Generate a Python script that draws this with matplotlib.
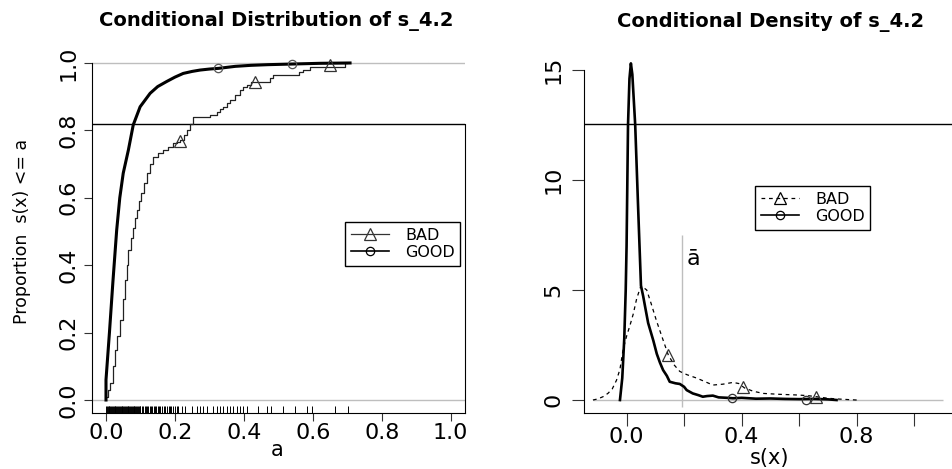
import matplotlib
matplotlib.use("Agg")
import matplotlib.pyplot as plt
from matplotlib.lines import Line2D

# ---------------- data ----------------
# Left panel: empirical CDFs
good_cdf_x = [0.0, 0.0, 0.01, 0.02, 0.031, 0.04, 0.05, 0.065, 0.079, 0.099, 0.128, 0.15,
              0.176, 0.2, 0.224, 0.25, 0.273, 0.3, 0.326, 0.375, 0.42, 0.47, 0.545, 0.62, 0.708]
good_cdf_y = [0.0, 0.06, 0.2, 0.35, 0.504, 0.6, 0.673, 0.742, 0.816, 0.87, 0.91, 0.93,
              0.945, 0.958, 0.969, 0.975, 0.979, 0.982, 0.984, 0.99, 0.993, 0.995, 0.997, 0.999, 1.0]

bad_cdf_x = [0.0, 0.005, 0.012, 0.02, 0.026, 0.033, 0.041, 0.048, 0.055, 0.06, 0.065, 0.072,
             0.078, 0.084, 0.089, 0.096, 0.103, 0.11, 0.118, 0.127, 0.137, 0.15, 0.166, 0.18,
             0.195, 0.205, 0.216, 0.225, 0.234, 0.243, 0.253, 0.302, 0.321, 0.33, 0.34, 0.35,
             0.36, 0.375, 0.389, 0.398, 0.408, 0.42, 0.475, 0.485, 0.56, 0.572, 0.592, 0.693, 0.70]
bad_cdf_y = [0.01, 0.03, 0.05, 0.1, 0.148, 0.19, 0.237, 0.3, 0.356, 0.4, 0.445, 0.48,
             0.51, 0.54, 0.564, 0.59, 0.613, 0.645, 0.673, 0.7, 0.722, 0.732, 0.742, 0.752,
             0.762, 0.767, 0.772, 0.787, 0.801, 0.82, 0.841, 0.846, 0.855, 0.862, 0.87, 0.88,
             0.89, 0.905, 0.92, 0.928, 0.935, 0.945, 0.955, 0.964, 0.972, 0.979, 0.989, 1.0, 1.0]

bad_cdf_mark_x = [0.216, 0.432, 0.65]
bad_cdf_mark_y = [0.769, 0.945, 0.994]
good_cdf_mark_x = [0.326, 0.541]
good_cdf_mark_y = [0.984, 0.997]

rug_values = [0.0, 0.0025, 0.005, 0.0075, 0.01, 0.0125, 0.015, 0.0175, 0.02, 0.0225,
              0.025, 0.0275, 0.03, 0.0325, 0.035, 0.0375, 0.04, 0.0425, 0.045, 0.0475,
              0.05, 0.0525, 0.055, 0.0575, 0.06, 0.0625, 0.065, 0.0675, 0.07, 0.0725,
              0.075, 0.0775, 0.08, 0.0825, 0.085, 0.0875, 0.09, 0.0925, 0.095, 0.0975,
              0.1, 0.104, 0.108, 0.112, 0.115, 0.119, 0.123, 0.127, 0.13, 0.134, 0.138,
              0.142, 0.146, 0.15, 0.154, 0.158, 0.163, 0.168, 0.172, 0.177, 0.182, 0.186,
              0.19, 0.195, 0.2, 0.205, 0.21, 0.2196, 0.229, 0.249, 0.263, 0.273, 0.282,
              0.292, 0.311, 0.321, 0.331, 0.34, 0.35, 0.36, 0.369, 0.379, 0.389, 0.398,
              0.408, 0.442, 0.466, 0.478, 0.514, 0.548, 0.582, 0.597, 0.664, 0.703]

# Right panel: densities
good_den_x = [-0.023, -0.015, -0.008, -0.003, 0.0, 0.005, 0.01, 0.015, 0.02, 0.03, 0.04,
              0.05, 0.058, 0.065, 0.075, 0.093, 0.105, 0.116, 0.127, 0.14, 0.15, 0.17,
              0.185, 0.2, 0.209, 0.23, 0.25, 0.265, 0.28, 0.3, 0.32, 0.35, 0.37, 0.4,
              0.45, 0.5, 0.55, 0.6, 0.65, 0.7, 0.73]
good_den_y = [0.0, 1.0, 2.8, 5.0, 7.0, 12.5, 14.6, 15.3, 14.8, 12.5, 8.8,
              5.2, 4.7, 4.2, 3.5, 2.7, 2.1, 1.7, 1.36, 1.1, 0.83, 0.76,
              0.73, 0.6, 0.45, 0.3, 0.22, 0.15, 0.18, 0.2, 0.12, 0.1, 0.08, 0.1,
              0.06, 0.07, 0.05, 0.04, 0.05, 0.03, 0.0]

bad_den_x = [-0.117, -0.1, -0.082, -0.065, -0.05, -0.035, -0.023, -0.012, 0.0, 0.012,
             0.023, 0.035, 0.05, 0.06, 0.07, 0.085, 0.104, 0.125, 0.145, 0.165, 0.185,
             0.21, 0.243, 0.27, 0.3, 0.335, 0.37, 0.39, 0.41, 0.44, 0.475, 0.53, 0.59,
             0.63, 0.66, 0.7, 0.73, 0.77, 0.8]
bad_den_y = [0.0, 0.05, 0.15, 0.3, 0.5, 0.9, 1.4, 2.3, 2.9, 3.4,
             3.9, 4.6, 5.2, 5.1, 5.0, 4.4, 3.6, 2.8, 2.05, 1.6, 1.3,
             1.15, 1.0, 0.85, 0.68, 0.72, 0.8, 0.75, 0.55, 0.4, 0.3, 0.26, 0.23,
             0.2, 0.15, 0.08, 0.05, 0.02, 0.0]

bad_den_mark_x = [0.145, 0.405, 0.66]
bad_den_mark_y = [2.05, 0.6, 0.15]
good_den_mark_x = [0.365, 0.624]
good_den_mark_y = [0.08, 0.0]

a_bar = 0.193
ref_cdf_level = 0.819
ref_den_level = 12.55

left_xticks = [0.0, 0.2, 0.4, 0.6, 0.8, 1.0]
left_yticks = [0.0, 0.2, 0.4, 0.6, 0.8, 1.0]
right_xticks = [0.0, 0.2, 0.4, 0.6, 0.8, 1.0]
right_xticklabels = ["0.0", "", "0.4", "", "0.8", ""]
right_yticks = [0, 5, 10, 15]

# ---------------- figure ----------------
W, H = 953, 469
fig = plt.figure(figsize=(W / 100, H / 100), dpi=100)
GRAY = "#bebebe"

def fx(px):
    return px / W

def fy(py):
    return 1 - py / H

# ---- left panel ----
axL = fig.add_axes([fx(92), fy(413), (465 - 92) / W, (413 - 49.5) / H])
axL.set_xlim(-0.0406, 1.0415)
axL.set_ylim(-0.0386, 1.04)
axL.axhline(1.0, color=GRAY, lw=1.0)
axL.axhline(0.0, color=GRAY, lw=1.0)
axL.axhline(ref_cdf_level, color="black", lw=1.0)
axL.plot(bad_cdf_x, bad_cdf_y, drawstyle="steps-post", color="#222222", lw=0.9)
axL.plot(good_cdf_x, good_cdf_y, color="black", lw=2.2)
axL.plot(bad_cdf_mark_x, bad_cdf_mark_y, ls="none", marker="^", ms=8,
         mfc="none", mec="#333333", mew=0.9)
axL.plot(good_cdf_mark_x, good_cdf_mark_y, ls="none", marker="o", ms=6,
         mfc="none", mec="#555555", mew=0.9)
axL.vlines(rug_values, -0.0386, -0.019, color="black", lw=0.7)

axL.spines["top"].set_visible(False)
axL.spines["left"].set_bounds(-0.0386, 1.0)
axL.spines["right"].set_bounds(-0.0386, ref_cdf_level)
axL.set_xticks(left_xticks)
axL.set_xticklabels([f"{v:.1f}" for v in left_xticks])
axL.set_yticks(left_yticks)
axL.set_yticklabels([f"{v:.1f}" for v in left_yticks], rotation=90, va="center")
axL.tick_params(axis="both", labelsize=16, length=6, width=0.8, color="#333333")
axL.tick_params(axis="y", pad=4)
axL.tick_params(axis="x", pad=1.5)
axL.tick_params(axis="y", right=False)

fig.text(fx(276), fy(21), "Conditional Distribution of s_4.2", ha="center",
         va="center", fontsize=14, fontweight="bold")
fig.text(fx(277), fy(450), "a", ha="center", va="center", fontsize=15)
fig.text(fx(22), fy(231), "Proportion  s(x) <= a", ha="center", va="center",
         rotation=90, fontsize=12.5)

legL = axL.legend(
    handles=[Line2D([], [], color="#333333", lw=0.9, marker="^", ms=8, mfc="none", mew=0.9),
             Line2D([], [], color="black", lw=1.2, marker="o", ms=6, mfc="none", mew=0.9)],
    labels=["BAD", "GOOD"], loc="upper left",
    bbox_to_anchor=(fx(345), fy(222)), bbox_transform=fig.transFigure,
    fontsize=11.5, frameon=True, fancybox=False, edgecolor="black", framealpha=1,
    handlelength=2.4, handletextpad=1.0, borderpad=0.35, labelspacing=0.15,
    borderaxespad=0)
legL.get_frame().set_linewidth(1.0)

# ---- right panel ----
x0r = 584.3
axR = fig.add_axes([fx(x0r), fy(413), (971.7 - x0r) / W, (413 - 49.5) / H])
axR.set_xlim(-0.147, 1.2)
axR.set_ylim(-0.59, 15.93)
axR.hlines(0, -0.117, 1.1, color=GRAY, lw=1.0)
axR.vlines(a_bar, -0.3, 7.5, color=GRAY, lw=1.0)
axR.axhline(ref_den_level, color="black", lw=1.0)
axR.plot(bad_den_x, bad_den_y, color="black", lw=0.9, ls=(0, (3, 3)))
axR.plot(good_den_x, good_den_y, color="black", lw=1.9)
axR.plot(bad_den_mark_x, bad_den_mark_y, ls="none", marker="^", ms=8,
         mfc="none", mec="#333333", mew=0.9)
axR.plot(good_den_mark_x, good_den_mark_y, ls="none", marker="o", ms=6,
         mfc="none", mec="#333333", mew=0.9)
axR.text(a_bar + 0.015, 6.4, "ā", ha="left", va="center", fontsize=16)

axR.spines["top"].set_visible(False)
axR.spines["right"].set_visible(False)
axR.spines["left"].set_bounds(-0.59, 15)
axR.set_xticks(right_xticks)
axR.set_xticklabels(right_xticklabels)
axR.set_yticks(right_yticks)
axR.set_yticklabels([str(v) for v in right_yticks], rotation=90, va="center")
axR.tick_params(axis="both", labelsize=16, length=9, width=0.8, color="#333333")
axR.tick_params(axis="y", pad=6)
axR.tick_params(axis="x", pad=1)

fig.text(fx(771), fy(22), "Conditional Density of s_4.2", ha="center",
         va="center", fontsize=14, fontweight="bold")
fig.text(fx(770), fy(458), "s(x)", ha="center", va="center", fontsize=15)

legR = axR.legend(
    handles=[Line2D([], [], color="black", lw=0.9, ls=(0, (3, 3)), marker="^", ms=8,
                    mfc="none", mew=0.9),
             Line2D([], [], color="black", lw=1.2, marker="o", ms=6, mfc="none", mew=0.9)],
    labels=["BAD", "GOOD"], loc="upper left",
    bbox_to_anchor=(fx(755), fy(186)), bbox_transform=fig.transFigure,
    fontsize=11.5, frameon=True, fancybox=False, edgecolor="black", framealpha=1,
    handlelength=2.4, handletextpad=1.0, borderpad=0.35, labelspacing=0.15,
    borderaxespad=0)
legR.get_frame().set_linewidth(1.0)

fig.savefig("out.png", dpi=100)
